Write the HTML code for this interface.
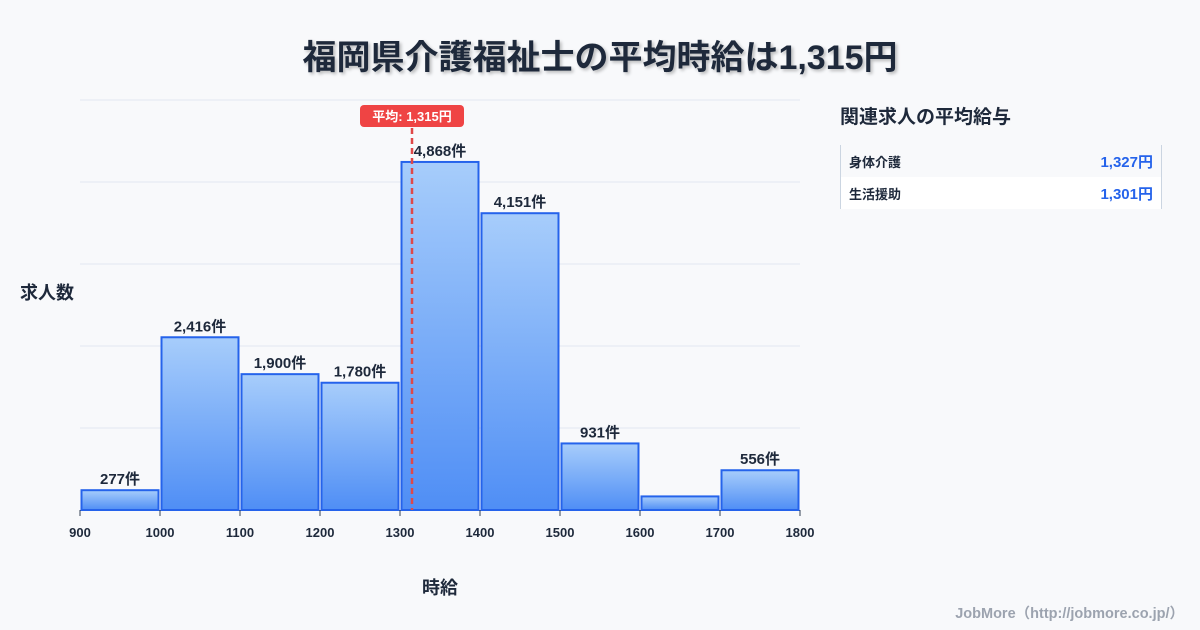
<!DOCTYPE html>
<html><head><meta charset="utf-8"><style>
body{margin:0;width:1200px;height:630px;background:#f8f9fb;font-family:"Liberation Sans","Noto Sans CJK JP",sans-serif;overflow:hidden;position:relative;color:#1e293b}
.title{position:absolute;top:30px;left:0;width:1200px;text-align:center;font-size:34px;font-weight:bold;color:#1e293b;text-shadow:2px 2px 3px rgba(0,0,0,0.25)}
.side-title{position:absolute;left:840px;top:102px;font-size:19px;font-weight:bold;color:#1e293b}
.tbl{position:absolute;left:840px;top:145px;width:320px;border-left:1px solid #cbd5e1;border-right:1px solid #cbd5e1}
.row{height:32px;display:flex;justify-content:space-between;align-items:center;padding:0 8px;font-size:13px;font-weight:bold}
.row .v{color:#2563eb;font-size:15px}
.foot{position:absolute;right:16px;top:602px;font-size:14.5px;color:#9ca3af;font-weight:bold}
</style></head><body>
<div class="title">福岡県介護福祉士の平均時給は1,315円</div>
<div class="side-title">関連求人の平均給与</div>
<div class="tbl">
<div class="row" style="background:#f8f9fb"><span>身体介護</span><span class="v">1,327円</span></div>
<div class="row" style="background:#fff"><span>生活援助</span><span class="v">1,301円</span></div>
</div>
<div class="foot">JobMore（http://jobmore.co.jp/）</div>
<svg id="c" width="1200" height="630" style="position:absolute;left:0;top:0">
<defs><linearGradient id="g" x1="0" y1="0" x2="0" y2="1"><stop offset="0" stop-color="#a7cdfb"/><stop offset="1" stop-color="#4f8ef5"/></linearGradient></defs>
</svg>
<script>
const binStarts=[900,1000,1100,1200,1300,1400,1500,1600,1700];
const counts=[277,2416,1900,1780,4868,4151,931,190,556];
const labels=["277件","2,416件","1,900件","1,780件","4,868件","4,151件","931件","","556件"];
const ticks=[900,1000,1100,1200,1300,1400,1500,1600,1700,1800];
const avg=1315;
const svg=document.getElementById('c');const NS='http://www.w3.org/2000/svg';
const yMax=Math.max(...counts)*1.178;
const X=v=>80+(v-900)*0.8;const Y=v=>510-v/yMax*410;
function mk(t,a,p){const e=document.createElementNS(NS,t);for(const k in a)e.setAttribute(k,a[k]);(p||svg).appendChild(e);return e;}
for(let i=0;i<=5;i++){const y=510-i*82;
const l=mk('line',{x1:80,x2:800,y1:y,y2:y,stroke:'#e2e8f0','stroke-width':1});

}
ticks.forEach(t=>{const tl=mk('line',{x1:X(t),x2:X(t),y1:510,y2:516,stroke:'#334155'});


const tx=mk('text',{x:X(t),y:537,'text-anchor':'middle','font-size':13,'font-weight':'bold',fill:'#1e293b'});tx.textContent=t;

});
binStarts.forEach((b,i)=>{const x0=X(b)+1.5,x1=X(b+100)-1.5,y=Y(counts[i]);
const r=mk('rect',{x:x0,y:y,width:x1-x0,height:510-y,fill:'url(#g)',stroke:'#2563eb','stroke-width':2});


if(labels[i]){const t=mk('text',{x:(x0+x1)/2,y:y-6,'text-anchor':'middle','font-size':15,'font-weight':'bold',fill:'#1e293b'});t.textContent=labels[i];

}});
const ax=X(avg);
const al=mk('line',{x1:ax,x2:ax,y1:128,y2:510,stroke:'#e04848','stroke-width':2.5,'stroke-dasharray':'6,4'});


const ab=mk('rect',{x:ax-52,y:105,width:104,height:22,rx:4,fill:'#ef4444'});


const at=mk('text',{x:ax,y:121,'text-anchor':'middle','font-size':13,'font-weight':'bold',fill:'#fff'});at.textContent='平均: 1,315円';


const yt=mk('text',{x:20,y:299,'font-size':18,'font-weight':'bold',fill:'#1e293b'});yt.textContent='求人数';


const xt=mk('text',{x:440,y:594,'text-anchor':'middle','font-size':18,'font-weight':'bold',fill:'#1e293b'});xt.textContent='時給';


</script>
</body></html>
